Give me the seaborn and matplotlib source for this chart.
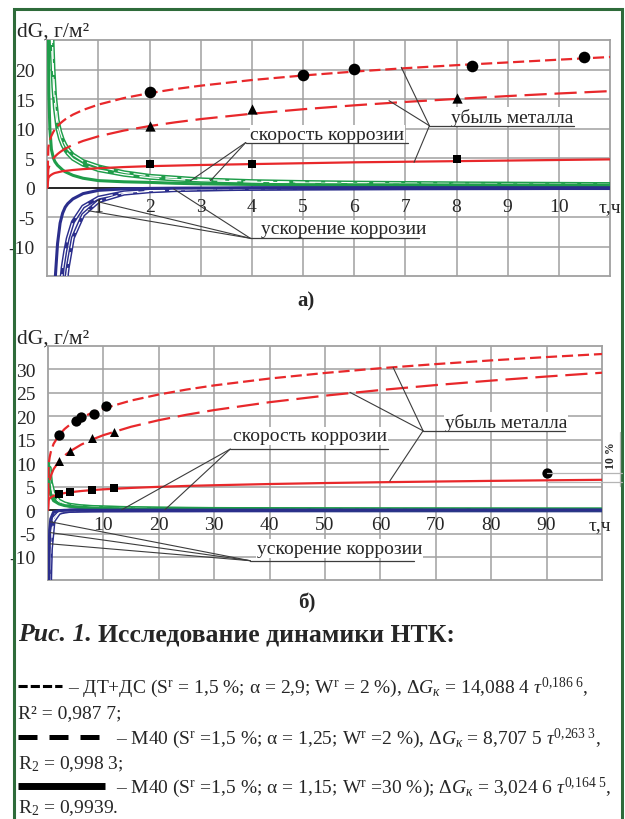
import numpy as np
import pandas as pd
import matplotlib
matplotlib.use("Agg")
import matplotlib.pyplot as plt
import seaborn as sns
from matplotlib.lines import Line2D
from matplotlib.patches import Rectangle

nan = np.nan

# ---------------- panel а) : tau 0 ... 11 h ----------------
tau_a = [0, 0.02, 0.03, 0.05, 0.08, 0.12, 0.15, 0.2, 0.25, 0.3, 0.35, 0.4, 0.5, 0.7,
         1, 1.5, 2, 2.5, 3, 4, 5, 6, 7, 8, 9, 10, 11]
# metal loss (red)
loss_dtds_a = [0, 6.79, 7.32, 8.06, 8.79, 9.49, 9.89, 10.43, 10.88, 11.25, 11.58, 11.87, 12.38, 13.18,
               14.09, 15.20, 16.03, 16.72, 17.29, 18.25, 19.02, 19.68, 20.26, 20.77, 21.23, 21.70, 22.15]
loss_m40w2_a = [0, 3.11, 3.46, 3.96, 4.48, 4.98, 5.28, 5.70, 6.04, 6.34, 6.60, 6.84, 7.26, 7.93,
                8.71, 9.69, 10.45, 11.08, 11.63, 12.54, 13.30, 13.96, 14.54, 15.05, 15.53, 15.97, 16.37]
loss_m40w30_a = [0, 1.6, 1.8, 2.0, 2.2, 2.4, 2.5, 2.6, 2.7, 2.8, 2.85, 2.9, 3.0, 3.15,
                 3.3, 3.5, 3.65, 3.75, 3.85, 4.0, 4.15, 4.3, 4.4, 4.5, 4.6, 4.7, 4.8]
# corrosion rate (green)
rate_dtds_a = [nan, nan, nan, 45, 30, 20, 15.5, 11.5, 9.5, 8.2, 7.3, 6.6, 5.6, 4.5,
               3.6, 2.6, 2.0, 1.7, 1.4, 1.1, 0.95, 0.85, 0.78, 0.72, 0.68, 0.64, 0.6]
rate_m40w2_a = [nan, nan, nan, 38, 25, 17, 13.5, 10.0, 8.3, 7.2, 6.4, 5.8, 4.9, 3.9,
                3.0, 2.2, 1.7, 1.4, 1.2, 0.95, 0.8, 0.72, 0.66, 0.62, 0.58, 0.55, 0.52]
rate_m40w30_a = [nan, 28, 16, 10, 6.5, 5.0, 4.4, 3.8, 3.4, 3.0, 2.7, 2.5, 2.1, 1.6,
                 1.2, 1.0, 0.9, 0.75, 0.65, 0.55, 0.5, 0.5, 0.48, 0.47, 0.46, 0.45, 0.45]
# corrosion acceleration (blue)
acc_dtds_a = [nan, nan, nan, nan, nan, nan, nan, nan, nan, -21.0, -17.0, -13.5, -8.5, -4.6,
              -2.3, -1.0, -0.6, -0.4, -0.3, -0.17, -0.12, -0.09, -0.07, -0.06, -0.05, -0.04, -0.04]
acc_m40w2_a = [nan, nan, nan, nan, nan, nan, nan, nan, -18.0, -13.6, -10.8, -8.6, -5.8, -3.2,
               -1.7, -0.8, -0.5, -0.35, -0.25, -0.15, -0.1, -0.08, -0.06, -0.05, -0.05, -0.04, -0.04]
acc_m40w30_a = [nan, nan, nan, nan, nan, nan, -16.0, -9.5, -6.0, -4.3, -3.3, -2.7, -1.9, -1.0,
                -0.45, -0.2, -0.12, -0.08, -0.06, -0.05, -0.04, -0.04, -0.03, -0.03, -0.03, -0.03, -0.03]
# experimental points
circ_tau_a = [2, 5, 6, 8.3, 10.5]
circ_val_a = [16.2, 19.1, 20.1, 20.7, 22.2]
tri_tau_a = [2, 4, 8]
tri_val_a = [10.5, 13.3, 15.2]
sq_tau_a = [2, 4, 8]
sq_val_a = [4.1, 4.1, 4.85]
xticks_a = [1, 2, 3, 4, 5, 6, 7, 8, 9, 10]
xlabels_a = ["1", "2", "3", "4", "5", "6", "7", "8", "9", "10"]
yticks_a = [-10, -5, 0, 5, 10, 15, 20]
ylabels_a = ["-10", "-5", "0", "5", "10", "15", "20"]

# ---------------- panel б) : tau 0 ... 100 h ----------------
tau_b = [0, 0.1, 0.2, 0.3, 0.5, 1, 2, 3, 4, 6, 8, 10, 15, 20, 25, 30, 40, 50, 60, 70, 80, 90, 100]
loss_dtds_b = [0, 9.17, 10.43, 11.25, 12.38, 14.09, 16.03, 17.29, 18.25, 19.68, 20.77, 21.65,
               23.35, 24.64, 25.69, 26.58, 28.04, 29.23, 30.24, 31.12, 31.91, 32.62, 33.27]
loss_m40w2_b = [0, 4.75, 5.70, 6.34, 7.26, 8.71, 10.45, 11.63, 12.54, 13.96, 15.05, 15.97,
                17.76, 19.16, 20.32, 21.32, 23.00, 24.39, 25.59, 26.65, 27.60, 28.47, 29.28]
loss_m40w30_b = [0, 2.07, 2.32, 2.48, 2.70, 3.02, 3.39, 3.62, 3.80, 4.06, 4.26, 4.42,
                 4.72, 4.95, 5.14, 5.29, 5.55, 5.76, 5.93, 6.08, 6.22, 6.34, 6.45]
rate_dtds_b = [nan, nan, nan, 9.0, 6.0, 3.6, 2.0, 1.4, 1.1, 0.8, 0.65, 0.55,
               0.4, 0.3, 0.25, 0.22, 0.18, 0.15, 0.13, 0.12, 0.11, 0.1, 0.09]
rate_m40w2_b = [nan, nan, nan, 7.5, 5.0, 3.0, 1.7, 1.2, 0.95, 0.72, 0.6, 0.5,
                0.36, 0.28, 0.23, 0.2, 0.16, 0.14, 0.12, 0.11, 0.1, 0.09, 0.09]
rate_m40w30_b = [nan, 10, 6.0, 4.5, 3.2, 2.0, 1.3, 0.95, 0.8, 0.6, 0.45, 0.35,
                 0.25, 0.2, 0.15, 0.12, 0.1, 0.08, 0.07, 0.06, 0.06, 0.05, 0.05]
acc_dtds_b = [nan, nan, -40, -18.8, -8.5, -2.3, -0.6, -0.3, -0.17, -0.09, -0.06, -0.04,
              -0.03, -0.02, -0.02, -0.01, -0.01, -0.01, -0.01, -0.01, -0.01, -0.01, -0.01]
acc_m40w2_b = [nan, nan, -30, -13.6, -5.8, -1.7, -0.5, -0.25, -0.15, -0.08, -0.05, -0.04,
               -0.03, -0.02, -0.02, -0.01, -0.01, -0.01, -0.01, -0.01, -0.01, -0.01, -0.01]
acc_m40w30_b = [nan, -40, -9.5, -4.3, -1.9, -0.45, -0.12, -0.06, -0.05, -0.04, -0.03, -0.03,
                -0.02, -0.02, -0.02, -0.01, -0.01, -0.01, -0.01, -0.01, -0.01, -0.01, -0.01]
circ_tau_b = [2, 5, 6, 8.3, 10.5, 90]
circ_val_b = [16.0, 19.0, 19.9, 20.4, 22.1, 7.9]
tri_tau_b = [2, 4, 8, 12]
tri_val_b = [10.4, 12.6, 15.3, 16.7]
sq_tau_b = [2, 4, 8, 12]
sq_val_b = [3.4, 3.9, 4.3, 4.6]
xticks_b = [10, 20, 30, 40, 50, 60, 70, 80, 90]
xlabels_b = ["10", "20", "30", "40", "50", "60", "70", "80", "90"]
yticks_b = [-10, -5, 0, 5, 10, 15, 20, 25, 30]
ylabels_b = ["-10", "-5", "0", "5", "10", "15", "20", "25", "30"]

# ---------------- style ----------------
sns.set_style("white")
plt.rcParams["font.family"] = ["Liberation Serif", "DejaVu Serif"]
plt.rcParams["mathtext.fontset"] = "custom"
plt.rcParams["mathtext.rm"] = "Liberation Serif"
plt.rcParams["mathtext.it"] = "Liberation Serif:italic"
plt.rcParams["mathtext.bf"] = "Liberation Serif:bold"

RED = "#e8282b"
GREEN = "#1f9d4a"
BLUE = "#2b2e8c"
GRID = "#a0a0a0"
LEAD = "#3c3c3c"
FRAME = "#2e6b3a"
SHORT = (0, (5, 2.2))
LONG = (0, (10, 3.5))
W, H = 625, 820


def fx(px):
    return px / W


def fy(py):
    return 1 - py / H


def curve(ax, x, y, color, lw, ls="-", z=3):
    df = pd.DataFrame({"t": x, "v": y}).dropna()
    sns.lineplot(data=df, x="t", y="v", ax=ax, color=color, linewidth=lw, linestyle=ls,
                 estimator=None, errorbar=None, sort=False, legend=False, zorder=z)


def double(ax, x, y, color, dash, z):
    curve(ax, x, y, color, 3.0, "-", z)
    curve(ax, x, y, "white", 0.9, dash, z + 0.1)


def panel(ax, tau, loss, rate, acc, pts, xmax, ylim, xt, xl, yt, yl, xlab_y, tau_lab_x, msize):
    ax.set_xlim(0, xmax)
    ax.set_ylim(*ylim)
    ax.set_xticks(xt)
    ax.set_yticks(yt)
    ax.set_yticklabels(yl)
    ax.grid(True, color=GRID, lw=1.1)
    ax.set_axisbelow(True)
    ax.tick_params(axis="x", length=0, labelbottom=False)
    ax.tick_params(axis="y", length=3, width=1.5, color="black", direction="out",
                   pad=6, labelsize=14)
    for s in ax.spines.values():
        s.set_color(GRID)
        s.set_linewidth(1.3)
    ax.axhline(0, color="black", lw=1.1, zorder=2)

    # metal loss
    curve(ax, tau, loss[0], RED, 1.6, SHORT, 4)
    curve(ax, tau, loss[1], RED, 1.6, LONG, 4)
    curve(ax, tau, loss[2], RED, 1.6, "-", 4)
    # rate
    double(ax, tau, rate[0], GREEN, (0, (9.6, 3.2)), 3)
    double(ax, tau, rate[1], GREEN, (0, (16, 4.8)), 3)
    curve(ax, tau, rate[2], GREEN, 2.2, "-", 3.5)
    # acceleration
    double(ax, tau, acc[0], BLUE, (0, (9.6, 3.2)), 3)
    double(ax, tau, acc[1], BLUE, (0, (16, 4.8)), 3)
    curve(ax, tau, acc[2], BLUE, 2.2, "-", 3.5)

    (ct, cv), (tt, tv), (st, sv) = pts
    sns.scatterplot(x=ct, y=cv, ax=ax, marker="o", s=msize[0], color="black",
                    linewidth=0, zorder=6, legend=False)
    sns.scatterplot(x=tt, y=tv, ax=ax, marker="^", s=msize[1], color="black",
                    linewidth=0, zorder=6, legend=False)
    sns.scatterplot(x=st, y=sv, ax=ax, marker="s", s=msize[2], color="black",
                    linewidth=0, zorder=6, legend=False)
    ax.set_xlabel("")
    ax.set_ylabel("")
    ax.set_xlim(0, xmax)
    ax.set_ylim(*ylim)

    for v, lab in zip(xt, xl):
        ax.text(v, xlab_y, lab, ha="center", va="center", fontsize=14, zorder=7)
    ax.text(tau_lab_x, xlab_y, "τ,ч", ha="center", va="center", fontsize=14,
            clip_on=False, zorder=7)


def label(ax, x, y, txt, ul, leads):
    ax.text(x, y, txt, fontsize=14, ha="left", va="center", zorder=8,
            bbox=dict(facecolor="white", edgecolor="none", pad=0.5))
    ax.plot(ul[0], ul[1], color=LEAD, lw=0.9, clip_on=False, zorder=8)
    for (tx, ty) in leads:
        ax.plot([ul[0][0], tx], [ul[1][0], ty], color=LEAD, lw=0.8,
                clip_on=False, zorder=8)


fig = plt.figure(figsize=(W / 100, H / 100), dpi=100)
fig.patch.set_facecolor("white")

axA = fig.add_axes([fx(47.3), fy(277.2), (610 - 47.3) / W, (277.2 - 41.2) / H])
axB = fig.add_axes([fx(48), fy(581.4), (602 - 48) / W, (581.4 - 346.9) / H])

panel(axA, tau_a,
      (loss_dtds_a, loss_m40w2_a, loss_m40w30_a),
      (rate_dtds_a, rate_m40w2_a, rate_m40w30_a),
      (acc_dtds_a, acc_m40w2_a, acc_m40w30_a),
      ((circ_tau_a, circ_val_a), (tri_tau_a, tri_val_a), (sq_tau_a, sq_val_a)),
      11, (-15, 25), xticks_a, xlabels_a, yticks_a, ylabels_a, -3.2, 11.0, (70, 55, 34))

panel(axB, tau_b,
      (loss_dtds_b, loss_m40w2_b, loss_m40w30_b),
      (rate_dtds_b, rate_m40w2_b, rate_m40w30_b),
      (acc_dtds_b, acc_m40w2_b, acc_m40w30_b),
      ((circ_tau_b, circ_val_b), (tri_tau_b, tri_val_b), (sq_tau_b, sq_val_b)),
      100, (-15, 35), xticks_b, xlabels_b, yticks_b, ylabels_b, -3.0, 99.6, (55, 42, 26))

# annotations panel a
label(axA, 3.97, 9.1, "скорость коррозии", ([3.88, 7.05], [7.66, 7.66]),
      [(2.80, 1.19), (3.19, 1.19)])
label(axA, 7.9, 12.0, "убыль металла", ([7.47, 10.29], [10.5, 10.5]),
      [(6.92, 20.4), (6.68, 14.75), (7.17, 4.3)])
label(axA, 4.17, -7.0, "ускорение коррозии", ([3.97, 7.27], [-8.58, -8.58]),
      [(0.80, -3.9), (1.0, -2.4), (2.47, -0.2)])
# annotations panel b
label(axB, 33.4, 15.8, "скорость коррозии", ([32.9, 61.4], [13.0, 13.0]),
      [(13.3, 0.06), (21.1, 0.06)])
label(axB, 71.7, 18.8, "убыль металла", ([67.7, 93.3], [16.9, 16.9]),
      [(62.3, 30.4), (54.5, 25.1), (61.7, 6.2)])
label(axB, 37.7, -8.2, "ускорение коррозии", ([36.5, 66.0], [-10.8, -10.8]),
      [(0.4, -2.5), (0.4, -4.8), (0.4, -7.2)])

# 10 % bracket
for py in (474, 483):
    fig.add_artist(Line2D([fx(547), fx(622)], [fy(py), fy(py)], transform=fig.transFigure,
                          color="#b5b5b5", lw=0.9))
fig.add_artist(Line2D([fx(620), fx(620)], [fy(433), fy(487)], transform=fig.transFigure,
                      color="#b5b5b5", lw=0.9))
fig.text(fx(611), fy(456), "10 %", rotation=90, fontsize=8.5, fontweight="bold",
         ha="center", va="center")

# axis titles
fig.text(fx(17), fy(37), "dG, г/м²", fontsize=15.5, ha="left", va="baseline")
fig.text(fx(17), fy(344), "dG, г/м²", fontsize=15.5, ha="left", va="baseline")
fig.text(fx(306), fy(301), "а)", fontsize=15, fontweight="bold", ha="center", va="center")
fig.text(fx(307), fy(603), "б)", fontsize=15, fontweight="bold", ha="center", va="center")

# caption
t1 = fig.text(fx(18), fy(641), "Рис. 1.", fontsize=18.5, fontweight="bold", fontstyle="italic",
              ha="left", va="baseline")
fig.canvas.draw()
bb = t1.get_window_extent()
fig.text(fx(bb.x1 + 6), fy(641), "Исследование динамики НТК:", fontsize=18.5,
         fontweight="bold", ha="left", va="baseline")

CAP = 14
fig.add_artist(Line2D([fx(18), fx(62)], [fy(687), fy(687)], transform=fig.transFigure,
                      color="black", lw=2.2, linestyle=(0, (3.0, 1.0)), solid_capstyle="butt",
                      dash_capstyle="butt"))
fig.add_artist(Line2D([fx(18), fx(100)], [fy(738), fy(738)], transform=fig.transFigure,
                      color="black", lw=3.6, linestyle=(0, (3.8, 2.4)), dash_capstyle="butt"))
fig.add_artist(Line2D([fx(18), fx(105)], [fy(787), fy(787)], transform=fig.transFigure,
                      color="black", lw=5, solid_capstyle="butt"))
fig.text(fx(68), fy(693),
         r"– ДТ+ДС (S$^{\mathrm{r}}$ = 1,5 %; α = 2,9; W$^{\mathrm{r}}$ = 2 %), Δ$G_{к}$ = 14,088 4 $τ^{0{,}186\ 6}$,",
         fontsize=CAP, ha="left", va="baseline")
fig.text(fx(18), fy(718), "R² = 0,987 7;", fontsize=CAP, ha="left", va="baseline")
fig.text(fx(116), fy(744),
         r"– М40 (S$^{\mathrm{r}}$ =1,5 %; α = 1,25; W$^{\mathrm{r}}$ =2 %), Δ$G_{к}$ = 8,707 5 $τ^{0{,}263\ 3}$,",
         fontsize=CAP, ha="left", va="baseline")
fig.text(fx(18), fy(769), r"R$_2$ = 0,998 3;", fontsize=CAP, ha="left", va="baseline")
fig.text(fx(116), fy(793),
         r"– М40 (S$^{\mathrm{r}}$ =1,5 %; α = 1,15; W$^{\mathrm{r}}$ =30 %); Δ$G_{к}$ = 3,024 6 $τ^{0{,}164\ 5}$,",
         fontsize=CAP, ha="left", va="baseline")
fig.text(fx(18), fy(813), r"R$_2$ = 0,9939.", fontsize=CAP, ha="left", va="baseline")

# green frame
fig.add_artist(Rectangle((fx(14), -0.05), fx(621.5) - fx(14), fy(9.5) + 0.05,
                         transform=fig.transFigure, fill=False, edgecolor=FRAME, lw=2.2))

fig.savefig("out.png", dpi=100)
